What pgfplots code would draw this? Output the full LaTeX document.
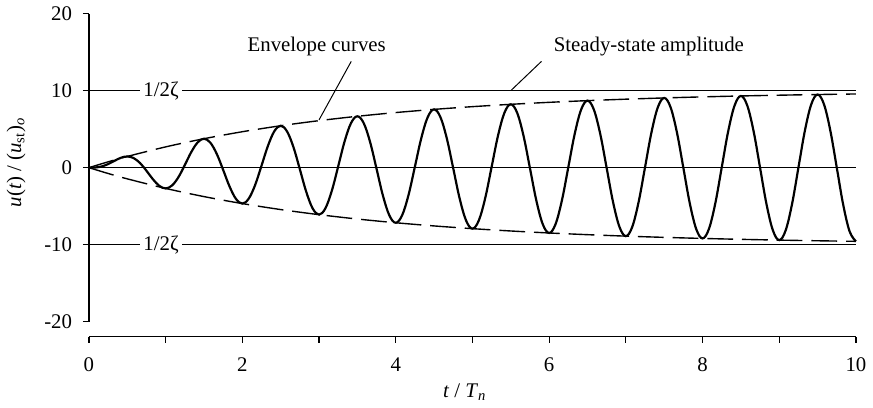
\documentclass[border=0pt]{standalone}
\usepackage{fontspec}
\setmainfont{Liberation Serif}
\usepackage{pgfplots}
\pgfplotsset{compat=1.18}
\usepackage{pgfplotstable}

% response u(t)/(u_st)_o, t in periods
\pgfplotstableread{
t u
0 0
0.083 0.021
0.167 0.156
0.25 0.462
0.333 0.887
0.417 1.282
0.5 1.454
0.583 1.242
0.667 0.594
0.75 -0.395
0.833 -1.485
0.917 -2.354
1 -2.696
1.083 -2.320
1.167 -1.235
1.25 0.338
1.333 1.996
1.417 3.271
1.5 3.758
1.583 3.242
1.667 1.781
1.75 -0.289
1.833 -2.432
1.917 -4.055
2 -4.665
2.083 -4.029
2.167 -2.250
2.25 0.247
2.333 2.806
2.417 4.724
2.5 5.441
2.583 4.703
2.667 2.650
2.75 -0.211
2.833 -3.125
2.917 -5.296
3 -6.103
3.083 -5.278
3.167 -2.991
3.25 0.180
3.333 3.398
3.417 5.785
3.5 6.670
3.583 5.770
3.667 3.283
3.75 -0.154
3.833 -3.631
3.917 -6.203
4 -7.154
4.083 -6.190
4.167 -3.533
4.25 0.132
4.333 3.830
4.417 6.560
4.5 7.567
4.583 6.549
4.667 3.746
4.75 -0.112
4.833 -4.000
4.917 -6.865
5 -7.921
5.083 -6.855
5.167 -3.929
5.25 0.096
5.333 4.145
5.417 7.126
5.5 8.223
5.583 7.118
5.667 4.084
5.75 -0.082
5.833 -4.269
5.917 -7.349
6 -8.482
6.083 -7.342
6.167 -4.218
6.25 0.070
6.333 4.376
6.417 7.539
6.5 8.702
6.583 7.533
6.667 4.332
6.75 -0.060
6.833 -4.467
6.917 -7.702
7 -8.891
7.083 -7.698
7.167 -4.428
7.25 0.051
7.333 4.544
7.417 7.841
7.5 9.052
7.583 7.838
7.667 4.512
7.75 -0.044
7.833 -4.610
7.917 -7.961
8 -9.190
8.083 -7.957
8.167 -4.583
8.25 0.037
8.333 4.667
8.417 8.062
8.5 9.308
8.583 8.059
8.667 4.644
8.75 -0.032
8.833 -4.715
8.917 -8.149
9 -9.408
9.083 -8.147
9.167 -4.695
9.25 0.027
9.333 4.757
9.417 8.224
9.5 9.494
9.583 8.221
9.667 4.739
9.75 -0.023
9.833 -4.793
9.917 -8.286
10 -9.568
}\response

% envelope amplitude
\pgfplotstableread{
t a
0 0
0.25 0.755
0.5 1.454
1 2.696
1.5 3.758
2 4.665
2.5 5.441
3 6.103
3.5 6.670
4 7.154
4.5 7.567
5 7.921
5.5 8.223
6 8.482
6.5 8.702
7 8.891
7.5 9.052
8 9.190
8.5 9.308
9 9.408
9.5 9.494
10 9.568
}\envelope

\begin{document}
\begin{tikzpicture}
\begin{axis}[
  scale only axis, width=387pt, height=163pt,
  xmin=0, xmax=10, ymin=-21.95, ymax=20,
  axis x line*=bottom, axis y line*=left,
  y axis line style={draw=none},
  axis line style={line width=0.6pt},
  xtick={0,2,...,10}, minor x tick num=1,
  ytick={-20,-10,0,10,20},
  tick align=outside, major tick length=3pt, minor tick length=3pt,
  every tick/.style={line width=0.6pt, black},
  /pgf/number format/assume math mode=true,
  tick label style={font=\fontsize{10.5}{12}\selectfont},
  xticklabel style={yshift=-4pt},
  yticklabel style={xshift=-2pt},
  xlabel={\textit{t} / \textit{T}\textsubscript{\textit{n}}},
  ylabel={\textit{u}(\textit{t}) / (\textit{u}\textsubscript{st})\textsubscript{\textit{o}}},
  label style={font=\fontsize{10.5}{12}\selectfont},
  xlabel style={at={(axis description cs:0.49,0)}, anchor=center, yshift=-28pt},
  ylabel style={at={(axis description cs:-0.095,0.54)}, anchor=center},
  clip=false,
]
\draw[line width=0.6pt] (axis cs:0,-20) -- (axis cs:0,20);
\addplot[line width=0.7pt, black] coordinates {(0,0) (10,0)};
\addplot[line width=0.75pt, black] coordinates {(0,10) (10,10)};
\addplot[line width=0.75pt, black] coordinates {(0,-10) (10,-10)};
\addplot[line width=0.7pt, black, dash pattern=on 13pt off 4.5pt, smooth] table[x=t, y=a] {\envelope};
\addplot[line width=0.7pt, black, dash pattern=on 13pt off 4.5pt, smooth] table[x=t, y expr=-\thisrow{a}] {\envelope};
\addplot[line width=1.1pt, black, smooth, tension=0.6] table[x=t, y=u] {\response};
\node[fill=white, inner sep=1.5pt, font=\fontsize{10.5}{12}\selectfont] at (axis cs:0.94,10) {1/2ζ};
\node[fill=white, inner sep=1.5pt, font=\fontsize{10.5}{12}\selectfont] at (axis cs:0.94,-10) {1/2ζ};
\node[font=\fontsize{10.5}{12}\selectfont] at (axis cs:2.97,15.7) {Envelope curves};
\node[font=\fontsize{10.5}{12}\selectfont] at (axis cs:7.30,15.7) {Steady-state amplitude};
\draw[line width=0.5pt] (axis cs:3.42,13.8) -- (axis cs:3.0,6.2);
\draw[line width=0.5pt] (axis cs:5.90,13.8) -- (axis cs:5.50,10);
\end{axis}
\end{tikzpicture}
\end{document}
